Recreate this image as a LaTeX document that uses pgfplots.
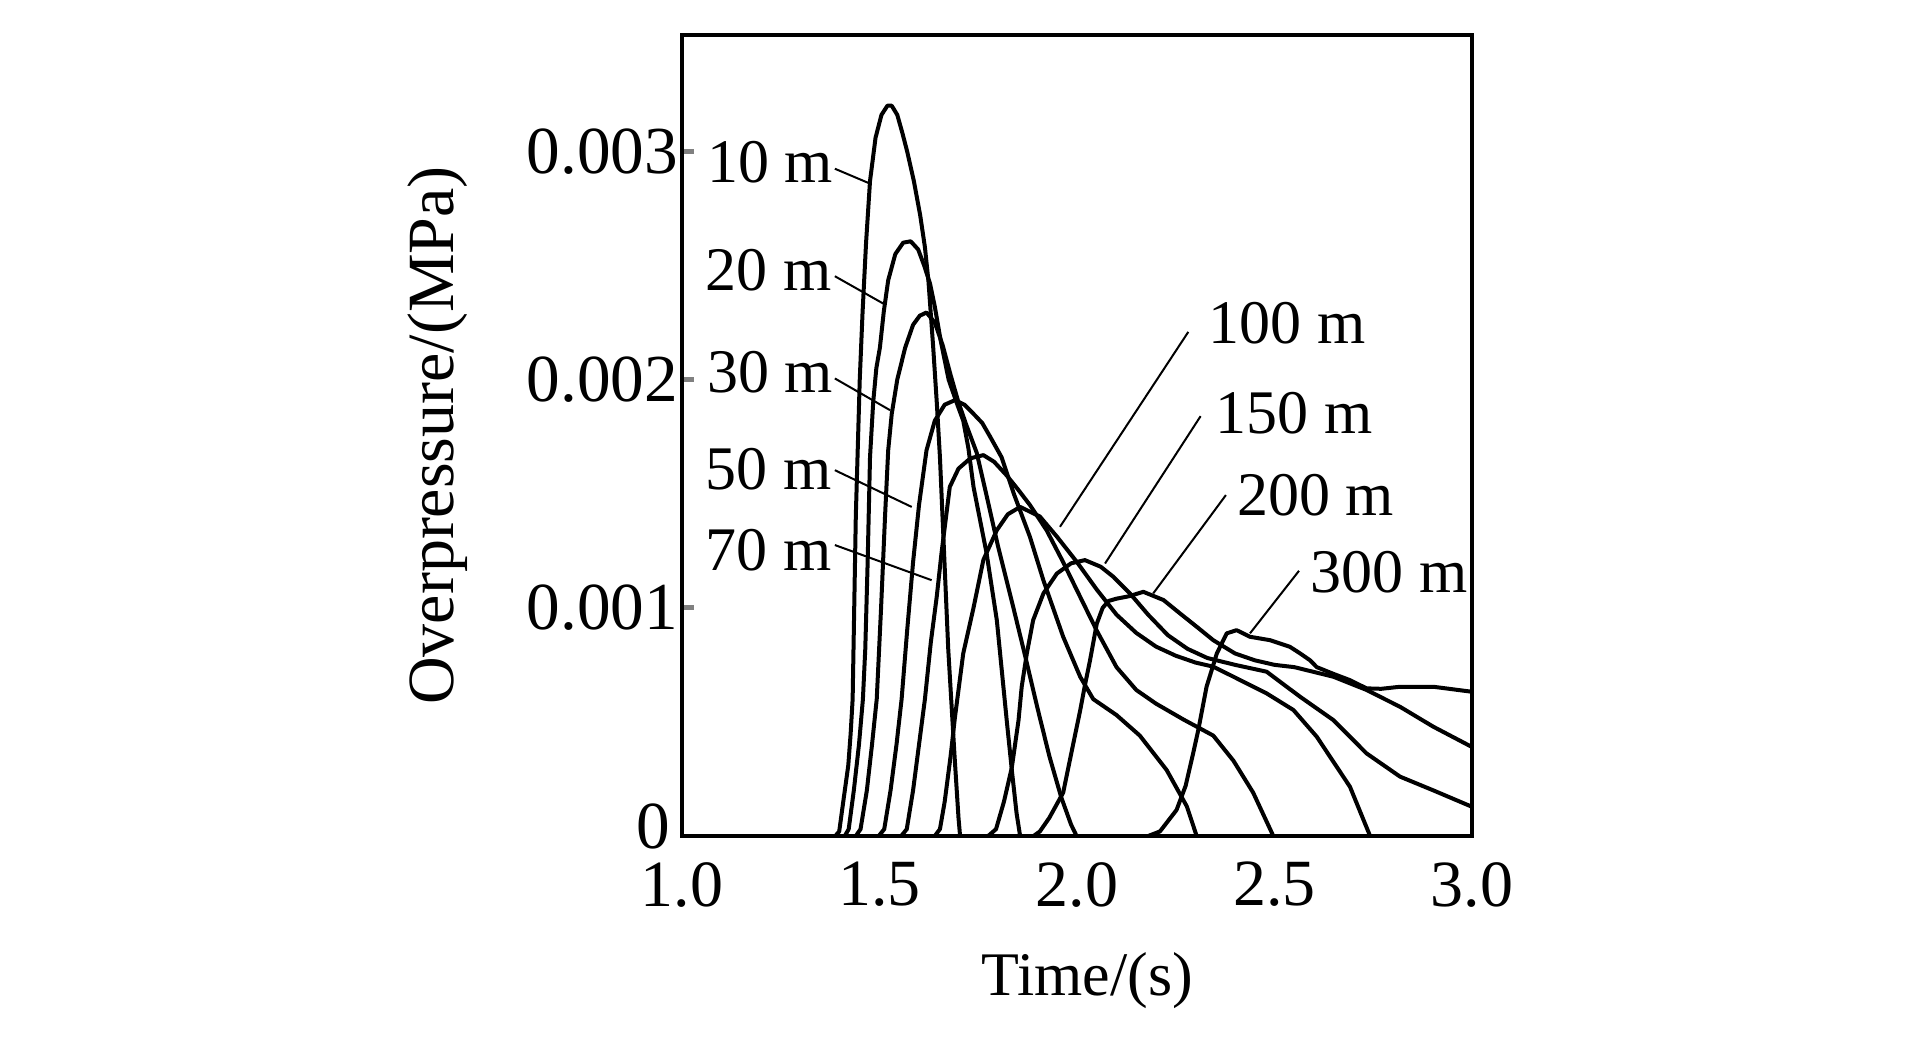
\documentclass[border=0pt]{standalone}
\usepackage{fontspec}
\setmainfont{Liberation Serif}
\usepackage{pgfplots}
\pgfplotsset{compat=1.18}
\begin{document}
\begin{tikzpicture}[font=\fontsize{15.5}{18}\selectfont,
  curve/.style={black, solid, mark=none, line width=1pt, line join=round},
  lead/.style={black, line width=0.5pt}]
\path[use as bounding box] (-170.5pt,-50.75pt) rectangle (310.25pt,209pt);
\begin{axis}[
  at={(0,0)}, anchor=south west,
  scale only axis, width=197.5pt, height=200.25pt,
  xmin=1, xmax=3, ymin=0, ymax=3.51,
  axis line style={line width=1.2pt},
  xtick={1,1.5,2,2.5,3},
  xticklabels={1.0,1.5,2.0,2.5,3.0},
  ytick={0,1,2,3},
  yticklabels={\raisebox{5pt}{0\hspace{2pt}},0.001,0.002,0.003},
  /pgf/number format/assume math mode=true,
  xtick style={draw=none},
  ytick style={line width=1.2pt},
  major tick length=3pt,
  ytick pos=left,
  xtick pos=bottom,
  xticklabel style={yshift=-3pt, font=\fontsize{16.5}{18}\selectfont},
  yticklabel style={xshift=2.5pt, font=\fontsize{16.8}{18}\selectfont},
  xlabel={Time/(s)},
  ylabel={Overpressure/(MPa)},
  xlabel style={at={(axis description cs:0.513,-0.18)}, anchor=center},
  ylabel style={at={(axis description cs:-0.309,0.5)}, anchor=center, font=\fontsize{16.5}{18}\selectfont},
  clip=true,
]
% 10 m
\addplot[curve] coordinates {(1.388,0)(1.398,0.02)(1.409,0.16)(1.421,0.31)(1.427,0.45)(1.432,0.6)(1.436,1.0)(1.440,1.4)(1.445,1.7)(1.450,2.0)(1.457,2.29)(1.466,2.6)(1.476,2.87)(1.490,3.06)(1.505,3.16)(1.520,3.2)(1.531,3.2)(1.545,3.16)(1.558,3.08)(1.570,3.0)(1.587,2.87)(1.603,2.72)(1.615,2.58)(1.624,2.43)(1.636,2.14)(1.645,1.9)(1.653,1.66)(1.662,1.3)(1.674,0.82)(1.690,0.35)(1.700,0.08)(1.704,0)};
% 20 m
\addplot[curve] coordinates {(1.412,0)(1.422,0.03)(1.435,0.2)(1.448,0.4)(1.458,0.6)(1.464,0.82)(1.470,1.2)(1.476,1.66)(1.484,1.9)(1.492,2.05)(1.501,2.14)(1.511,2.3)(1.522,2.435)(1.540,2.55)(1.560,2.6)(1.579,2.606)(1.598,2.57)(1.613,2.5)(1.628,2.42)(1.640,2.32)(1.655,2.17)(1.675,2.0)(1.695,1.9)(1.712,1.82)(1.725,1.7)(1.738,1.53)(1.771,1.24)(1.797,0.946)(1.822,0.508)(1.835,0.289)(1.847,0.1)(1.856,0)};
% 30 m
\addplot[curve] coordinates {(1.440,0)(1.452,0.03)(1.468,0.2)(1.481,0.4)(1.493,0.6)(1.504,1.0)(1.514,1.4)(1.522,1.69)(1.531,1.85)(1.545,2.0)(1.565,2.14)(1.585,2.24)(1.602,2.28)(1.619,2.294)(1.640,2.25)(1.660,2.15)(1.680,2.02)(1.700,1.9)(1.720,1.8)(1.746,1.68)(1.770,1.5)(1.800,1.27)(1.839,1.0)(1.870,0.78)(1.900,0.56)(1.930,0.35)(1.960,0.17)(1.985,0.05)(1.999,0)};
% 50 m
\addplot[curve] coordinates {(1.498,0)(1.512,0.03)(1.528,0.2)(1.543,0.4)(1.556,0.6)(1.570,0.9)(1.585,1.2)(1.600,1.45)(1.619,1.69)(1.640,1.82)(1.665,1.89)(1.691,1.91)(1.715,1.89)(1.738,1.85)(1.760,1.81)(1.780,1.75)(1.809,1.66)(1.840,1.5)(1.881,1.31)(1.915,1.12)(1.965,0.873)(2.008,0.698)(2.041,0.6)(2.100,0.53)(2.159,0.44)(2.227,0.289)(2.278,0.13)(2.303,0)};
% 70 m
\addplot[curve] coordinates {(1.555,0)(1.569,0.03)(1.585,0.2)(1.600,0.4)(1.615,0.6)(1.630,0.85)(1.645,1.05)(1.657,1.24)(1.678,1.53)(1.700,1.61)(1.730,1.655)(1.763,1.669)(1.790,1.64)(1.822,1.58)(1.850,1.52)(1.881,1.45)(1.923,1.34)(1.965,1.2)(2.008,1.048)(2.050,0.9)(2.100,0.74)(2.150,0.64)(2.200,0.58)(2.270,0.51)(2.345,0.44)(2.396,0.33)(2.446,0.19)(2.497,0)};
% 100 m
\addplot[curve] coordinates {(1.640,0)(1.653,0.03)(1.665,0.15)(1.680,0.35)(1.691,0.52)(1.712,0.80)(1.738,1.0)(1.763,1.21)(1.797,1.34)(1.825,1.41)(1.856,1.442)(1.906,1.40)(1.950,1.31)(2.000,1.2)(2.050,1.08)(2.100,0.97)(2.150,0.89)(2.200,0.83)(2.250,0.79)(2.300,0.76)(2.345,0.742)(2.396,0.698)(2.480,0.625)(2.548,0.552)(2.607,0.435)(2.691,0.216)(2.742,0)};
% 150 m
\addplot[curve] coordinates {(1.775,0)(1.795,0.03)(1.815,0.15)(1.835,0.3)(1.852,0.508)(1.860,0.654)(1.873,0.80)(1.889,0.946)(1.915,1.063)(1.949,1.15)(1.985,1.195)(2.020,1.209)(2.060,1.18)(2.092,1.136)(2.134,1.063)(2.180,0.97)(2.230,0.88)(2.280,0.82)(2.330,0.78)(2.400,0.75)(2.480,0.72)(2.565,0.61)(2.649,0.508)(2.733,0.362)(2.818,0.26)(2.902,0.20)(3.000,0.128)};
% 200 m
\addplot[curve] coordinates {(1.890,0)(1.906,0.02)(1.930,0.08)(1.965,0.19)(1.990,0.4)(2.008,0.55)(2.020,0.66)(2.033,0.77)(2.050,0.93)(2.065,1.0)(2.080,1.03)(2.100,1.04)(2.130,1.05)(2.168,1.07)(2.219,1.034)(2.261,0.975)(2.303,0.917)(2.345,0.858)(2.400,0.8)(2.450,0.77)(2.500,0.75)(2.550,0.74)(2.649,0.698)(2.733,0.64)(2.818,0.566)(2.902,0.479)(3.000,0.39)};
% 300 m
\addplot[curve] coordinates {(2.180,0)(2.210,0.02)(2.252,0.114)(2.275,0.22)(2.294,0.362)(2.307,0.464)(2.328,0.654)(2.354,0.80)(2.379,0.888)(2.404,0.902)(2.438,0.873)(2.489,0.858)(2.539,0.829)(2.565,0.80)(2.590,0.77)(2.607,0.74)(2.650,0.71)(2.691,0.683)(2.733,0.647)(2.770,0.645)(2.818,0.654)(2.902,0.654)(3.000,0.632)};
% leaders
\draw[lead] (axis cs:1.387,2.924) -- (axis cs:1.4716,2.862);
\draw[lead] (axis cs:1.387,2.453) -- (axis cs:1.5096,2.333);
\draw[lead] (axis cs:1.387,2.005) -- (axis cs:1.5266,1.866);
\draw[lead] (axis cs:1.387,1.603) -- (axis cs:1.5815,1.442);
\draw[lead] (axis cs:1.387,1.275) -- (axis cs:1.632,1.121);
\draw[lead] (axis cs:2.2818,2.209) -- (axis cs:1.957,1.355);
\draw[lead] (axis cs:2.313,1.840) -- (axis cs:2.071,1.194);
\draw[lead] (axis cs:2.377,1.494) -- (axis cs:2.193,1.063);
\draw[lead] (axis cs:2.562,1.162) -- (axis cs:2.438,0.888);
% labels
\node[anchor=base west, inner sep=0pt] at (axis cs:1.0625,2.865) {10 m};
\node[anchor=base west, inner sep=0pt] at (axis cs:1.058,2.392) {20 m};
\node[anchor=base west, inner sep=0pt] at (axis cs:1.0625,1.945) {30 m};
\node[anchor=base west, inner sep=0pt] at (axis cs:1.058,1.518) {50 m};
\node[anchor=base west, inner sep=0pt] at (axis cs:1.058,1.162) {70 m};
\node[anchor=base west, inner sep=0pt] at (axis cs:2.3316,2.159) {100 m};
\node[anchor=base west, inner sep=0pt] at (axis cs:2.349,1.765) {150 m};
\node[anchor=base west, inner sep=0pt] at (axis cs:2.404,1.406) {200 m};
\node[anchor=base west, inner sep=0pt] at (axis cs:2.59,1.069) {300 m};
\end{axis}
\end{tikzpicture}
\end{document}
